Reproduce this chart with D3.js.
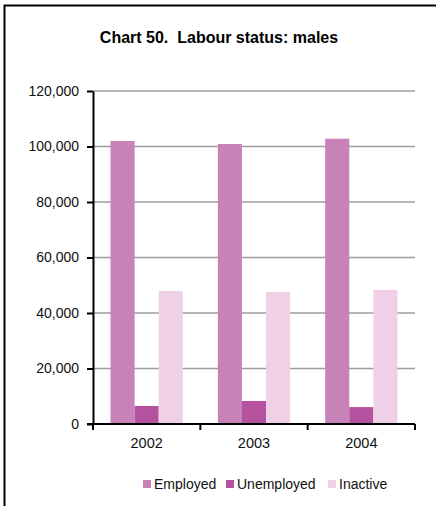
<!DOCTYPE html>
<html>
<head>
<meta charset="utf-8">
<script src="https://cdn.jsdelivr.net/npm/d3@7"></script>
<style>
  body { margin: 0; background: #fff; }
  svg { display: block; font-family: "Liberation Sans", Arial, sans-serif; }
  .axis text { font-size: 14px; fill: #111; }
  .axis path, .axis line { stroke: #000; stroke-width: 2; }
</style>
</head>
<body>
<div class="chart"></div>
<script>

// Chart data
var years = ["2002", "2003", "2004"];
var series = ["Employed", "Unemployed", "Inactive"];
var employed = [102000, 100900, 102800];
var unemployed = [6500, 8300, 6100];
var inactive = [47900, 47600, 48300];
var yTicks = [0, 20000, 40000, 60000, 80000, 100000, 120000];

var colours = ["#c882b8", "#b5529f", "#f0d0e6"];
var values = [employed, unemployed, inactive];

var width = 436, height = 506;
var plot = { left: 93, right: 415, top: 91, bottom: 424 };

var svg = d3.select(".chart")
    .append("svg")
      .attr("width", width)
      .attr("height", height);

// Frame (only top and left edges show in the picture)
svg.append("path")
    .attr("d", "M4.5," + height + "V5.5H" + width)
    .attr("fill", "none")
    .attr("stroke", "#000")
    .attr("stroke-width", 2);

// Title
svg.append("text")
    .attr("x", 219)
    .attr("y", 43)
    .attr("text-anchor", "middle")
    .style("font-size", "16px")
    .style("font-weight", "bold")
    .style("white-space", "pre")
    .text("Chart 50.  Labour status: males");

// Scales
var x0 = d3.scaleBand()
    .domain(years)
    .range([plot.left, plot.right])
    .padding(0);

var x1 = d3.scaleBand()
    .domain(series)
    .range([17.5, x0.bandwidth() - 17.5])
    .padding(0);

var y = d3.scaleLinear()
    .domain([0, 120000])
    .range([plot.bottom, plot.top]);

// Gridlines
svg.append("g")
    .selectAll("line")
    .data(yTicks.slice(1))
    .enter().append("line")
      .attr("x1", plot.left)
      .attr("x2", plot.right)
      .attr("y1", function(d) { return y(d); })
      .attr("y2", function(d) { return y(d); })
      .attr("stroke", "#9c9c9c")
      .attr("stroke-width", 1.6);

// Bars
var groups = svg.append("g")
    .selectAll("g")
    .data(years)
    .enter().append("g")
      .attr("transform", function(d) { return "translate(" + x0(d) + ",0)"; });

groups.selectAll("rect")
    .data(function(d, i) {
        return series.map(function(s, j) { return { key: s, value: values[j][i], c: colours[j] }; });
    })
    .enter().append("rect")
      .attr("x", function(d) { return x1(d.key); })
      .attr("y", function(d) { return y(d.value); })
      .attr("width", x1.bandwidth())
      .attr("height", function(d) { return plot.bottom - y(d.value); })
      .style("fill", function(d) { return d.c; });

// Y axis
svg.append("g")
    .attr("class", "axis")
    .attr("transform", "translate(" + plot.left + ",0)")
    .call(d3.axisLeft(y)
        .tickValues(yTicks)
        .tickFormat(d3.format(","))
        .tickSizeInner(6)
        .tickSizeOuter(0)
        .tickPadding(8));

// X axis, ticks sit between the categories
var xAxis = svg.append("g")
    .attr("class", "axis")
    .attr("transform", "translate(0," + plot.bottom + ")");

xAxis.append("line")
    .attr("x1", plot.left - 6)
    .attr("x2", plot.right)
    .attr("y1", 0)
    .attr("y2", 0);

xAxis.selectAll(".tick")
    .data(years.map(function(d) { return x0(d); }).concat([plot.right]))
    .enter().append("line")
      .attr("x1", function(d) { return d; })
      .attr("x2", function(d) { return d; })
      .attr("y1", 0)
      .attr("y2", 6);

xAxis.selectAll(".label")
    .data(years)
    .enter().append("text")
      .attr("x", function(d) { return x0(d) + x0.bandwidth() / 2; })
      .attr("y", 24)
      .attr("text-anchor", "middle")
      .style("font-size", "14.5px")
      .text(function(d) { return d; });

// Legend
var legendX = [143, 226, 328];
var legend = svg.append("g")
    .selectAll("g")
    .data(series)
    .enter().append("g")
      .attr("transform", function(d, i) { return "translate(" + legendX[i] + ",480)"; });

legend.append("rect")
    .attr("width", 8)
    .attr("height", 8)
    .style("fill", function(d, i) { return colours[i]; });

legend.append("text")
    .attr("x", 11)
    .attr("y", 8.5)
    .style("font-size", "14px")
    .style("fill", "#111")
    .text(function(d) { return d; });

</script>
</body>
</html>
